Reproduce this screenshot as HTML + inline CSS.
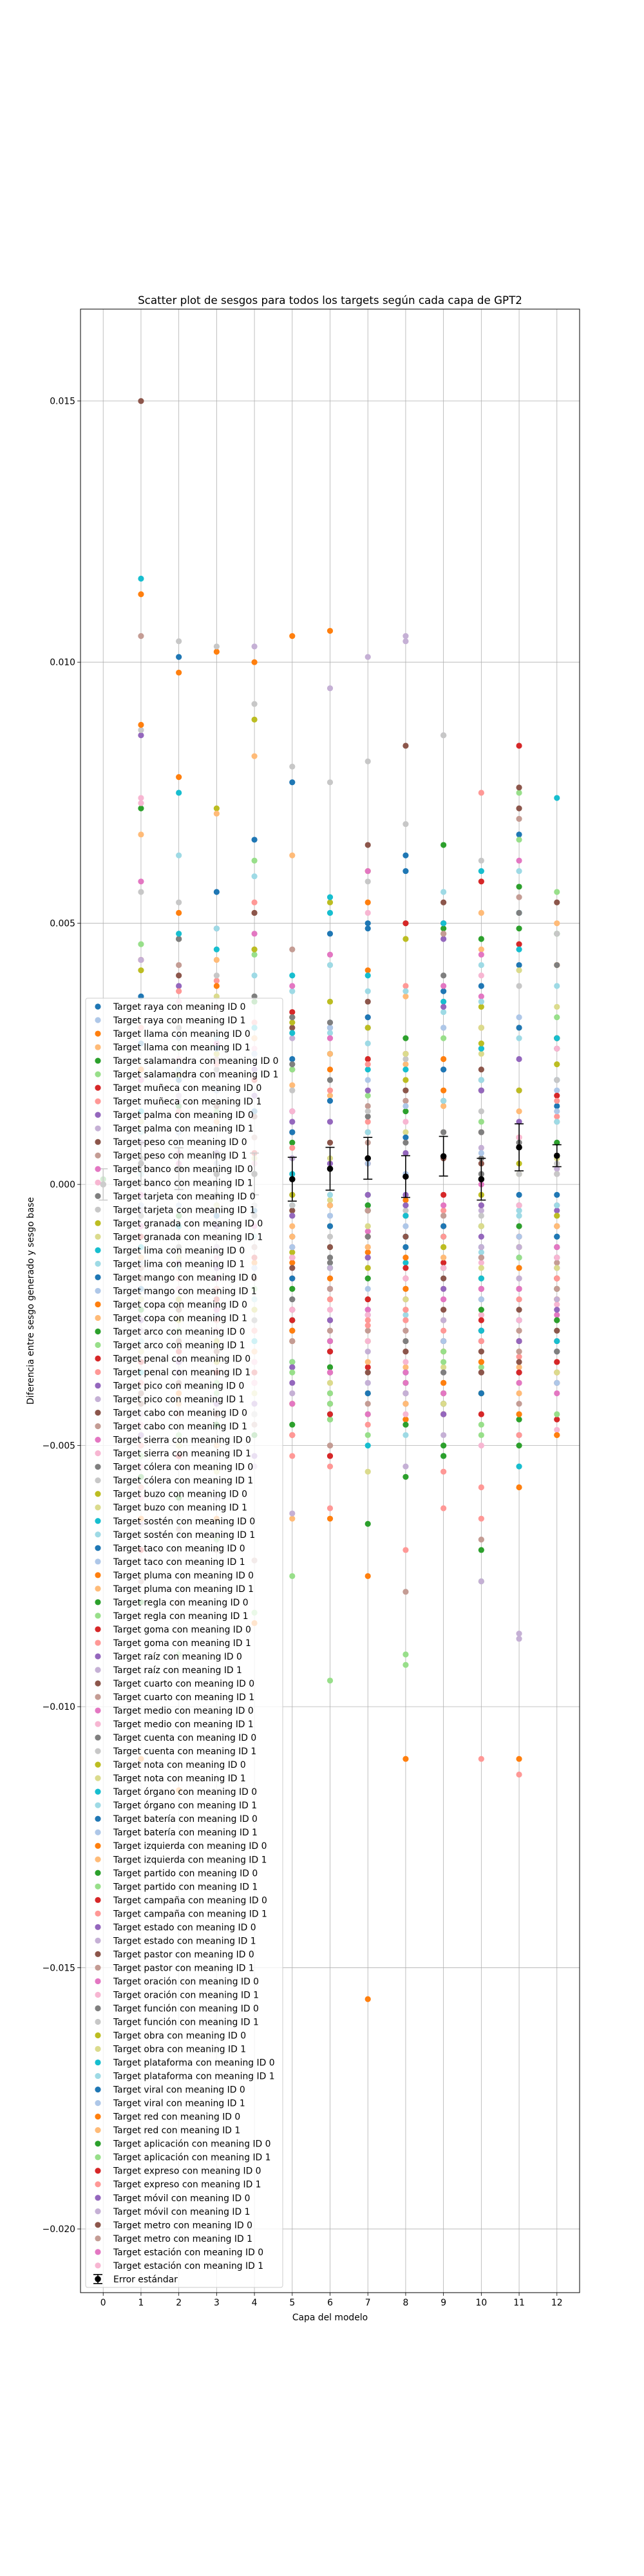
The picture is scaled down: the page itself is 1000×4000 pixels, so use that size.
<!DOCTYPE html>
<html><head><meta charset="utf-8">
<style>
html,body{margin:0;padding:0;background:#fff;}
svg{display:block;font-family:"DejaVu Sans","Liberation Sans",sans-serif;}
</style></head>
<body>
<svg id="chart" width="1000" height="4000" viewBox="0 0 1000 4000" xmlns="http://www.w3.org/2000/svg">
<rect x="0" y="0" width="1000" height="4000" fill="#fff"/>
<text x="512.5" y="472" font-size="16.7" text-anchor="middle">Scatter plot de sesgos para todos los targets según cada capa de GPT2</text>
<g id="grid"></g>
<g id="points"></g>
<g id="errs"></g>
<rect x="125" y="480" width="775" height="3080" fill="none" stroke="#000" stroke-width="1"/>
<g id="ticks"></g>
<text x="512.5" y="3603" font-size="13.9" text-anchor="middle">Capa del modelo</text>
<text x="0" y="0" font-size="13.9" text-anchor="middle" transform="translate(52,2020) rotate(-90)">Diferencia entre sesgo generado y sesgo base</text>
<g id="legend"></g>
</svg>
<script>
const layers=[0,1,2,3,4,5,6,7,8,9,10,11,12];
const xTicks=[0,1,2,3,4,5,6,7,8,9,10,11,12];
const yTicks=[0.015,0.010,0.005,0.000,-0.005,-0.010,-0.015,-0.020];
const yTickLabels=["0.015","0.010","0.005","0.000","\u22120.005","\u22120.010","\u22120.015","\u22120.020"];
const targets=["raya","llama","salamandra","muñeca","palma","peso","banco","tarjeta","granada","lima","mango","copa","arco","penal","pico","cabo","sierra","cólera","buzo","sostén","taco","pluma","regla","goma","raíz","cuarto","medio","cuenta","nota","órgano","batería","izquierda","partido","campaña","estado","pastor","oración","función","obra","plataforma","viral","red","aplicación","expreso","móvil","metro","estación"];
// values in units of 1e-4, one row per target/meaning (ID0, ID1 alternating), per layer 0..12
const values=[
[0,22,101,56,14,77,30,50,63,37,18,42,15],
[0,-8,28,12,-18,5,-32,20,-45,-12,30,-5,8],
[0,113,98,102,100,105,106,41,-3,18,-25,9,-36],
[0,67,30,43,52,19,17,-12,23,15,45,14,-22],
[1,72,15,-4,35,8,25,-40,14,49,47,57,48],
[0,46,47,18,62,-75,-35,17,-90,28,-35,75,56],
[0,43,8,25,20,33,-20,4,25,-15,58,46,28],
[0,-50,14,39,31,7,18,12,-70,-55,-110,-113,13],
[0,86,38,49,17,12,4,18,-10,47,26,24,-16],
[0,43,17,21,103,5,95,101,104,86,7,-87,3],
[0,150,47,28,13,-2,8,35,84,50,10,76,26],
[0,105,42,24,9,22,-50,15,-78,10,-40,55,12],
[0,58,-22,12,30,-18,44,-9,16,38,44,18,-4],
[0,73,35,18,26,-14,28,52,-8,22,-15,9,-47],
[0,5,47,22,-6,10,-15,30,-20,40,5,-12,28],
[0,87,104,103,92,80,77,81,69,86,62,52,4],
[0,41,21,72,89,32,54,60,47,48,34,18,-10],
[0,12,24,36,6,-42,-3,-8,10,-20,25,41,5],
[0,116,75,45,25,40,52,22,-15,35,26,52,74],
[0,10,63,49,59,37,29,27,-25,33,42,28,12],
[0,36,22,4,66,24,48,49,60,-30,38,67,20],
[0,-12,8,-25,14,-10,30,4,18,-40,35,32,18],
[0,88,78,38,6,-15,22,54,-110,24,30,-110,42],
[0,-20,6,71,82,63,25,10,36,-42,18,-18,50],
[0,20,-12,-22,28,-35,-45,-5,28,65,-8,49,28],
[0,-28,26,14,44,22,-95,24,50,-44,12,66,-12],
[0,-32,10,18,6,-48,-52,24,50,-40,-28,84,17],
[0,30,37,23,54,-52,-62,23,38,-5,75,-20,16],
[0,8,-15,6,22,14,12,-25,6,34,18,12,-5],
[0,-5,16,-30,45,28,31,-18,105,22,-5,-30,-20],
[0,-22,40,15,52,30,-42,65,18,54,22,72,54],
[0,22,-10,34,-12,45,-40,8,16,48,-22,70,-8],
[0,20,-10,27,48,38,28,60,-30,50,36,62,2],
[0,74,24,-18,4,14,-20,32,12,-22,40,-8,26],
[0,-40,30,12,36,23,31,10,-45,16,20,52,42],
[0,56,54,40,-20,18,42,58,24,30,14,38,48],
[0,-48,-10,25,45,31,35,30,20,-10,27,-12,23],
[0,-30,-50,-55,5,-5,5,-55,25,-35,30,30,34],
[0,14,48,18,30,29,55,40,22,50,60,45,28],
[0,-20,22,28,40,-35,42,37,37,56,35,60,38],
[0,27,20,26,14,-34,16,32,9,22,-28,30,-32],
[0,-15,-32,18,25,-26,-16,-38,15,30,-30,-22,14],
[0,22,52,4,-15,-42,-64,-75,-45,-32,-40,-58,-48],
[0,-28,-38,12,28,-64,-38,-44,-35,-38,52,-35,-20],
[0,-80,-60,-20,-28,-46,-35,-65,-38,-50,-40,-45,8],
[0,-40,-90,-68,-82,-34,-45,-48,-92,-40,-76,-44,32],
[0,-70,-52,-36,-38,-14,-52,-35,-22,-44,-20,-30,-45],
[0,-58,-44,-42,-28,-48,-30,-46,-32,-62,-64,-33,-36],
[0,-34,-30,-42,-52,-35,-32,-24,-40,-42,-14,-48,-12],
[0,-65,-54,-60,-48,-63,-28,-40,-46,-48,-30,-86,-32],
[0,-40,-38,-46,-44,-5,-36,-22,-42,5,4,-20,-38],
[0,-76,-66,-70,-72,-28,-50,-28,-40,-24,-36,-42,-15],
[0,-26,-40,-38,-32,-16,-18,-24,-38,-22,-30,-26,-25],
[0,-54,-34,-44,-38,-22,-28,-25,-44,-20,-25,-38,-23],
[0,-18,-24,-12,-30,32,20,13,8,10,2,8,-26],
[0,-36,-20,-28,-44,-6,-14,-12,-26,-38,-22,-18,2],
[0,-44,-26,-34,-22,-13,-8,-30,-6,-16,-18,2,-18],
[0,-22,-30,-16,-42,-12,-12,-4,-22,-12,-8,-32,-16],
[0,-12,-8,-20,-12,-4,-16,-4,-10,-10,-18,-14,-10],
[0,-30,-14,-8,-22,-22,-8,-14,-14,-18,-13,-5,-4],
[0,2,-20,-6,-5,10,-4,-2,-36,-16,-12,-26,-2],
[0,-10,-4,-14,-18,-30,-6,-18,-8,-6,-22,-14,-10],
[0,-64,-40,-28,-34,-30,-22,-13,-14,-8,-34,-44,-22],
[0,-16,-6,-26,-10,-8,-18,-12,-30,-26,-2,-28,-14],
[0,-56,-16,-12,-20,-26,-30,-4,-56,-42,-70,-8,-20],
[0,-8,-28,-40,-26,-20,-42,-2,-12,-32,-46,-16,-28],
[0,-10,-18,-22,-14,-24,-32,-10,-18,-30,-26,-10,-18],
[0,-36,-12,-26,-30,-18,-22,-27,-26,-10,-58,-22,-34],
[0,-26,-34,-8,-16,-38,-20,-2,-2,-20,-10,-36,-14],
[0,-44,-22,-12,-24,-28,-36,-38,-40,-36,-12,-18,-6],
[0,-18,-30,-44,-10,-10,-26,-5,-32,-18,-36,-24,-30],
[0,-24,-80,-14,-46,-20,-28,-5,-6,-26,-68,-32,-8],
[0,-2,4,-18,-8,-12,-36,-14,-28,-4,0,-20,-12],
[0,-46,-48,-28,-36,-14,-24,-16,-18,-52,-44,-26,-30],
[0,-6,-12,-2,-26,-22,-14,-10,-30,-36,10,-4,-32],
[0,4,-2,8,-4,-4,-10,14,-5,-14,-6,2,20],
[0,-14,-22,-30,-24,-2,-4,-16,-24,-12,-2,4,-6],
[0,-32,-14,-4,-40,-42,-38,-8,-20,-42,-16,-38,-36],
[0,-36,-24,-50,-30,2,-44,-50,-6,-52,-28,-54,-30],
[0,2,-16,-36,-10,-6,-2,10,-48,16,20,-6,-14],
[0,-20,-10,-10,-20,-18,-8,-40,-12,-8,-40,-2,-10],
[0,-4,10,4,-16,-12,-6,-20,2,-30,6,-10,-38],
[0,-110,-116,-64,-84,-28,-18,-156,-20,-38,-34,-16,-48],
[0,-14,-42,-50,-32,-10,-4,-34,-42,-14,-4,-40,-8],
[0,-24,-6,-46,-48,-20,-16,-18,-46,-52,-24,-50,-26],
[0,-52,-48,-38,-20,-36,-40,-44,-4,-34,-48,-14,-44],
[0,-34,-32,-36,-36,-26,-44,-22,-16,-2,-44,-36,-34],
[0,-38,-18,-20,-28,-48,-54,-26,-24,-28,-30,-48,-18],
[0,-48,-36,-16,-42,-6,-26,-14,-4,-44,-4,-30,-24],
[0,-28,-62,-24,-54,-40,-16,-32,-54,-26,-76,-12,-22],
[0,-42,-24,-32,-18,-16,-12,-36,-10,-24,-32,-34,-28],
[0,-16,-10,-10,-12,-30,-20,-42,-28,-6,-14,-28,-20],
[0,-8,6,-24,2,-42,-30,-44,-36,-40,-20,-38,-40],
[0,-60,-20,-14,-34,-24,-24,-30,-34,-16,-50,-4,-14]
];
const means=[0.0000,0.0004,0.0003,0.0002,0.0002,0.0001,0.0003,0.0005,0.00015,0.00054,0.0001,0.00071,0.00055];
const stdErrs=[0.0003,0.0004,0.0004,0.0004,0.0004,0.00042,0.00041,0.0004,0.0004,0.00038,0.0004,0.00045,0.00021];

const tab20=["#1f77b4","#aec7e8","#ff7f0e","#ffbb78","#2ca02c","#98df8a","#d62728","#ff9896","#9467bd","#c5b0d5","#8c564b","#c49c94","#e377c2","#f7b6d2","#7f7f7f","#c7c7c7","#bcbd22","#dbdb8d","#17becf","#9edae5"];
const L=125,R=900,T=480,B=3560;
const xMin=-0.6,xMax=12.6,yMin=-0.02122,yMax=0.01676;
const X=v=>L+(v-xMin)/(xMax-xMin)*(R-L);
const Y=v=>B-(v-yMin)/(yMax-yMin)*(B-T);
const NS="http://www.w3.org/2000/svg";
function mk(tag,attrs,parent){const e=document.createElementNS(NS,tag);for(const k in attrs)e.setAttribute(k,attrs[k]);parent.appendChild(e);return e;}
const grid=document.getElementById('grid'),ticks=document.getElementById('ticks');
xTicks.forEach(t=>{
  const g=mk('line',{x1:X(t),x2:X(t),y1:T,y2:B,stroke:'#b0b0b0','stroke-width':0.8},grid);
  
  
  const tk=mk('line',{x1:X(t),x2:X(t),y1:B,y2:B+4.9,stroke:'#000','stroke-width':0.8},ticks);
  
  
  const tx=mk('text',{x:X(t),y:B+20,'font-size':13.9,'text-anchor':'middle'},ticks);
  tx.textContent=String(t);
  
  
});
yTicks.forEach((t,i)=>{
  const g=mk('line',{x1:L,x2:R,y1:Y(t),y2:Y(t),stroke:'#b0b0b0','stroke-width':0.8},grid);
  
  
  const tk=mk('line',{x1:L-4.9,x2:L,y1:Y(t),y2:Y(t),stroke:'#000','stroke-width':0.8},ticks);
  
  
  const tx=mk('text',{x:L-8,y:Y(t)+5,'font-size':13.9,'text-anchor':'end'},ticks);
  tx.textContent=yTickLabels[i];
  
  
});
const pts=document.getElementById('points');
values.forEach((row,s)=>{
  const col=tab20[s%20];
  row.forEach((v,li)=>{
    const c=mk('circle',{cx:X(layers[li]),cy:Y(v*1e-4),r:4.6,fill:col},pts);
    
    
  });
});
const errs=document.getElementById('errs');
layers.forEach((l,i)=>{
  const x=X(l),y1=Y(means[i]+stdErrs[i]),y2=Y(means[i]-stdErrs[i]);
  const ln=mk('line',{x1:x,x2:x,y1:y1,y2:y2,stroke:'#000','stroke-width':1.6},errs);
  
  
  [y1,y2].forEach(yy=>{
    const cp=mk('line',{x1:x-7,x2:x+7,y1:yy,y2:yy,stroke:'#000','stroke-width':1.6},errs);
    
    
  });
  const m=mk('circle',{cx:x,cy:Y(means[i]),r:4.8,fill:'#000'},errs);
  
  
});
const leg=document.getElementById('legend');
const n=values.length+1, top0=1563, step=21.02;
const box=mk('rect',{x:133,y:1550,width:306,height:(n-1)*step+26,rx:3,fill:'#fff','fill-opacity':0.8,stroke:'#cccccc','stroke-width':1},leg);


values.forEach((row,s)=>{
  const y=top0+s*step;
  const c=mk('circle',{cx:152,cy:y,r:4.6,fill:tab20[s%20]},leg);
  
  
  const t=mk('text',{x:176,y:y+5,'font-size':13.9},leg);
  t.textContent='Target '+targets[Math.floor(s/2)]+' con meaning ID '+(s%2);
  
  
});
{
  const y=top0+(n-1)*step;
  const l1=mk('line',{x1:152,x2:152,y1:y-7,y2:y+7,stroke:'#000','stroke-width':1.6},leg);
  
  
  [y-7,y+7].forEach(yy=>{const cp=mk('line',{x1:145,x2:159,y1:yy,y2:yy,stroke:'#000','stroke-width':1.6},leg);
    
    });
  const m=mk('circle',{cx:152,cy:y,r:4.8,fill:'#000'},leg);
  
  
  const t=mk('text',{x:176,y:y+5,'font-size':13.9},leg);
  t.textContent='Error estándar';
  
  
}
</script>
</body></html>
